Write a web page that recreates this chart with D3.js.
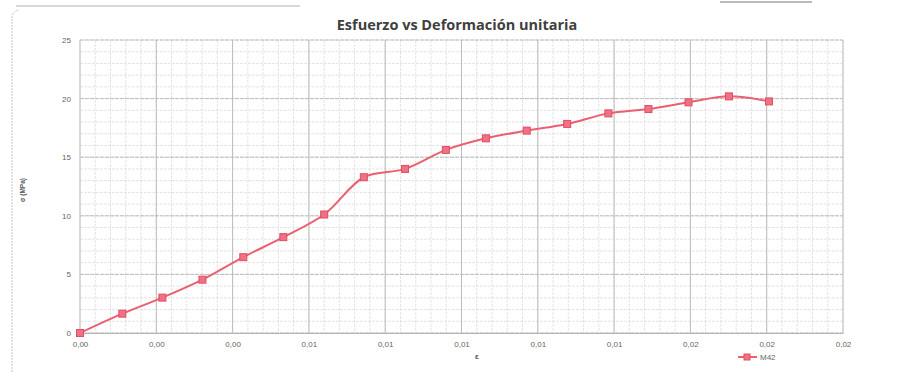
<!DOCTYPE html>
<html><head><meta charset="utf-8">
<script src="https://cdn.jsdelivr.net/npm/d3@7"></script>
<style>
html,body{margin:0;padding:0;background:#fff;}
svg{display:block;}
</style></head>
<body>
<svg id="chart" width="913" height="374"></svg>
<script>
// ---- data ----
const strain = [0.00000,0.00111,0.00216,0.00321,0.00428,0.00533,0.00640,0.00744,0.00852,0.00959,0.01064,0.01171,0.01277,0.01385,0.01490,0.01595,0.01701,0.01806];
const stress = [0.0,1.65,3.02,4.55,6.47,8.18,10.11,13.29,14.0,15.62,16.61,17.27,17.84,18.74,19.11,19.68,20.19,19.76];
const xTicks = [0,0.002,0.004,0.006,0.008,0.010,0.012,0.014,0.016,0.018,0.020];
const xTickLabels = ["0,00","0,00","0,00","0,01","0,01","0,01","0,01","0,01","0,02","0,02","0,02"];
const yTicks = [0,5,10,15,20,25];
const seriesName = "M42";
const title = "Esfuerzo vs Deformación unitaria";
const xTitle = "ε";
const yTitle = "σ (MPa)";

const svg = d3.select("#chart");
const L = 80, R = 843, T = 40, B = 333;
const x = d3.scaleLinear().domain([0,0.02]).range([L,R]);
const y = d3.scaleLinear().domain([0,25]).range([B,T]);

// outer frame (scanned-page look)
svg.append("path").attr("d","M12,372 L12,18 Q12,11 19,10")
  .attr("fill","none").attr("stroke","#c4c4c4").attr("stroke-width",1).attr("stroke-dasharray","2,1");
svg.append("line").attr("x1",16).attr("x2",300).attr("y1",6).attr("y2",6).attr("stroke","#b0b0b0").attr("stroke-width",1);
svg.append("line").attr("x1",720).attr("x2",812).attr("y1",2).attr("y2",2).attr("stroke","#777").attr("stroke-width",1);

// minor grid
const g = svg.append("g");
const xMinor = d3.range(0,0.02+1e-9,0.0004);
const yMinor = d3.range(0,25+1e-9,1);
g.selectAll(".vmin").data(xMinor).enter().append("line")
  .attr("x1",d=>x(d)).attr("x2",d=>x(d)).attr("y1",T).attr("y2",B)
  .attr("stroke","#dedede").attr("stroke-width",0.8).attr("stroke-dasharray","3,1");
g.selectAll(".hmin").data(yMinor).enter().append("line")
  .attr("x1",L).attr("x2",R).attr("y1",d=>y(d)).attr("y2",d=>y(d))
  .attr("stroke","#dedede").attr("stroke-width",0.8).attr("stroke-dasharray","3,1");
// major grid
g.selectAll(".vmaj").data(xTicks).enter().append("line")
  .attr("x1",d=>x(d)).attr("x2",d=>x(d)).attr("y1",T).attr("y2",B)
  .attr("stroke","#bcbcbc").attr("stroke-width",1);
g.selectAll(".hmaj").data(yTicks).enter().append("line")
  .attr("x1",L).attr("x2",R).attr("y1",d=>y(d)).attr("y2",d=>y(d))
  .attr("stroke","#bcbcbc").attr("stroke-width",1).attr("stroke-dasharray","4,1");

// axes labels
const xAxis = d3.axisBottom(x).tickValues(xTicks).tickSize(0).tickPadding(8)
  .tickFormat((d,i)=>xTickLabels[i]);
const xa = svg.append("g").attr("transform",`translate(0,${B})`).call(xAxis);
xa.select(".domain").attr("stroke","#b5b5b5");
xa.selectAll("text").attr("font-family","Liberation Sans, Arial, sans-serif").attr("font-size",8).attr("fill","#666");
const yAxis = d3.axisLeft(y).tickValues(yTicks).tickSize(0).tickPadding(9);
const ya = svg.append("g").attr("transform",`translate(${L},0)`).call(yAxis);
ya.select(".domain").remove();
ya.selectAll("text").attr("font-family","Liberation Sans, Arial, sans-serif").attr("font-size",8).attr("fill","#666");

// titles
svg.append("text").attr("x",457).attr("y",30).attr("text-anchor","middle")
  .attr("font-family","Open Sans, sans-serif").attr("font-weight",700).attr("font-size",14.5)
  .attr("fill","#404040").text(title);
svg.append("text").attr("transform",`translate(25,190) rotate(-90)`).attr("text-anchor","middle")
  .attr("font-family","Liberation Sans, sans-serif").attr("font-weight",700).attr("font-size",6.5)
  .attr("fill","#555").text(yTitle);
svg.append("text").attr("x",477).attr("y",359).attr("text-anchor","middle")
  .attr("font-family","Liberation Sans, sans-serif").attr("font-weight",700).attr("font-size",8)
  .attr("fill","#555").text(xTitle);

// series
const pts = strain.map((d,i)=>[d,stress[i]]);
const line = d3.line().x(d=>x(d[0])).y(d=>y(d[1])).curve(d3.curveCatmullRom.alpha(0.5));
svg.append("path").attr("d",line(pts)).attr("fill","none")
  .attr("stroke","#ec5f71").attr("stroke-width",2);
svg.selectAll(".mk").data(pts).enter().append("rect")
  .attr("x",d=>x(d[0])-3.5).attr("y",d=>y(d[1])-3.5).attr("width",7).attr("height",7)
  .attr("fill","#ee7284").attr("stroke","#e04e62").attr("stroke-width",1);

// legend
svg.append("line").attr("x1",738).attr("x2",757).attr("y1",357).attr("y2",357)
  .attr("stroke","#ec5f71").attr("stroke-width",2);
svg.append("rect").attr("x",744).attr("y",354).attr("width",6).attr("height",6)
  .attr("fill","#ee7284").attr("stroke","#e04e62").attr("stroke-width",1);
svg.append("text").attr("x",760).attr("y",360).attr("font-family","Liberation Sans, sans-serif")
  .attr("font-size",8).attr("fill","#666").text(seriesName);
</script>
</body></html>
